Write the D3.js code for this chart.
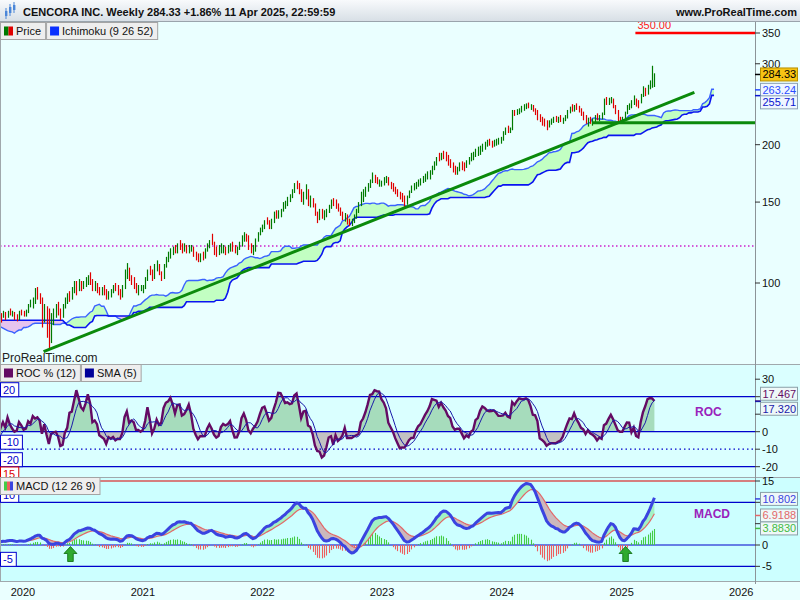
<!DOCTYPE html>
<html lang="en">
<head>
<meta charset="UTF-8">
<title>CENCORA INC. Weekly</title>
<script src="https://d3js.org/d3.v7.min.js"></script>
<style>
  body { margin: 0; background: #fff; }
  svg { display: block; font-family: "Liberation Sans", Arial, sans-serif; }
</style>
</head>
<body>
<svg width="800" height="600"></svg>
<script>
// Weekly bars, one per Friday from firstFriday on.
// The first 52 weeks (Nov 2018 - Oct 2019) fall left of the visible window,
// they only feed the warm-up of Ichimoku, ROC and MACD.
const firstFriday = "2018-11-02";

const highs = [
  93,94,92,90,90, 89,84,81,77, 78,79,80,80, 80,81,82,83, 83,81,80,81,80, 80,78,76,76,
  77,77,76,77,79, 83,85,86,86, 88,88,87,88, 88,83,83,83,83, 85,86,85,84, 84,85,86,86,
  // 2019-11, 2019-12
  87,86.5,87,88,87, 86.5,85.5,87,87.5,
  // 2020
  87,87.5,90,92,93, 97.5,98,95,93, 90,89,88,86, 88,90,91,88, 90,93,95,96,98, 101,101,102,101,
  101,103,104,105.5,102, 101,100,98,98, 99,97,96,97, 99,100,99,97,99, 107,110.5,108,104, 103,100,99,99,
  // 2021
  99,103,107,109,107, 110,112,110,106, 110,114,117,119, 120,121,122,124,122, 122,121,121,121, 120,117,116,116,
  117,119,122,124,128, 123,120,121,122, 121,120,121,122, 123,121,120,123,127, 129,128,127,122, 121,125,129,132,134,
  // 2022
  137,139,137,138, 143,144,144,145, 150,151,154,156, 160,165,167,165,160, 158,164,160,155, 153,149,143,145,
  145,144,145,148,152, 153,152,149,146, 143,142,141,138,138, 141,145,150,158, 160,162,165,168, 174,172,170,168,167,
  // 2023
  170,171,170,166, 165,162,160,158, 157,155,155,159,163, 165,166,168,169, 171,173,175,176, 180,184,188,192,192,
  194,193,190,186, 183,180,179,183, 184,183,185,188,192, 193,196,198,199, 201,203,205,206, 204,205,206,207,208,
  // 2024
  214,218,220,218, 238,238,239,240, 243,245,246,247,245, 244,240,238,233, 230,228,226,226,228, 230,231,230,232,
  229,232,238,242, 245,244,246,243,240, 236,232,229,230, 228,232,234,232, 235,252,254,253,254, 252,244,238,230,
  // 2025
  230,236,244,246,250, 256,252,250,258, 268,266,270,276, 297,286
];

const lows = [
  88,89,86,86,86, 82,79,74,72, 74,75,76,76, 76,77,78,79, 79,77,77,77,77, 76,73,72,72,
  73,73,72,73,75, 78,81,82,83, 84,84,83,84, 80,79,79,79,79, 81,82,81,80, 80,81,82,82,
  84,83,84,85,84.5, 83,82.5,83,85,
  84.5,84.5,86,88.5,88, 90,92,90,80, 82,76,71.5,74, 81,84,85,83, 84,88,90,91,92, 95,94,96,96,
  97,98,99,99,96, 96,95,94,94, 94,92,92,93, 95,96,94,92,93, 97,102,101,99, 97,95,94,96,
  95,97,101,104,101, 102,106,104,101, 102,108,111,113, 115,116,116,118,116, 117,116,116,117, 114,112,111,111,
  112,113,117,119,121, 115,114,115,116, 116,115,116,117, 117,116,115,118,120, 123,123,118,116, 115,117,123,127,129,
  131,134,131,131, 135,138,138,139, 143,145,147,150, 153,157,160,156,150, 148,152,147,146, 146,140,135,137,
  138,137,139,142,145, 147,145,143,140, 137,136,134,133,133, 135,138,142,147, 150,154,158,161, 165,165,164,162,162,
  163,165,163,160, 158,156,154,152, 150,146,148,153,157, 159,160,162,163, 165,166,168,168, 172,176,180,184,185,
  186,184,180,178, 174,172,172,175, 176,175,178,181,184, 185,188,189,190, 193,195,198,199, 197,198,199,200,201,
  204,210,212,212, 215,231,232,233, 235,237,239,240,238, 236,232,226,224, 220,219,215,218,221, 223,224,223,224,
  222,225,228,234, 236,236,238,235,231, 226,222,219,222, 220,223,226,225, 227,232,244,244,246, 240,233,224,222,
  223,227,233,238,240, 244,242,240,246, 254,255,257,264, 266,267
];

const closes = [
  91,92,87,88,89, 83,80,75,76, 77,78,79,77, 79,80,81,82, 80,78,79,78,79, 77,74,73,75,
  75,74,73,76,78, 82,84,85,85, 87,86,85,87, 82,81,82,80,82, 84,84,83,82, 83,84,85,84,
  85.5,84,86.5,85.5,85.5, 84,83.5,86.5,86,
  85,86.5,89,89.5,91.5, 93,92.5,91,83, 87,85,80,84, 86,89,87,84, 86,92,93,92,97, 100,99,100,98,
  100,101,102,100,97, 99,96,95,97, 95,93,95,96, 98,97,96,93,98, 104,106,102,101, 98,96,97,98,
  98,102,106,105,103, 108,109,105,103, 109,113,115,117, 118,117,121,119,118, 120,118,119,120, 115,113,112,115,
  114,118,121,123,122, 116,115,117,118, 118,116,120,121, 119,117,119,122,125, 127,125,119,117, 118,124,128,131,133,
  136,135,133,137, 141,139,143,144, 148,149,153,154, 158,163,162,158,152, 155,160,149,152, 147,141,137,140,
  139,140,144,147,151, 148,146,144,141, 138,140,135,134,135, 140,144,149,156, 157,160,163,167, 170,167,165,166,166,
  168,169,164,161, 160,157,156,154, 152,150,154,158,162, 163,165,166,167, 168,171,172,174, 178,182,186,185,190,
  188,186,182,181, 176,174,177,181, 180,179,181,184,188, 188,194,195,197, 199,201,203,201, 200,203,204,205,205,
  212,216,214,215, 235,234,236,238, 241,242,244,242,243, 237,234,228,226, 223,222,219,224,226, 228,226,229,225,
  227,230,236,240, 238,242,240,237,233, 229,226,227,225, 226,229,228,230, 232,249,248,250,251, 242,236,227,226,
  229,234.5,242,244,248, 254,244,243,255, 262,260,268,273, 279.14,284.33
];

const priceTicks = [350, 300, 200, 150, 100];
const rocTicks = [30, 20, 10, 0, -10, -20];
const macdTicks = [15, 10, 5, 0, -5];
const years = [2020, 2021, 2022, 2023, 2024, 2025, 2026];

// drawn objects on the price panel
const trendLine = [["2020-03-04", 70.9], ["2025-08-11", 260]];
const supportLevel = { from: "2024-10-04", price: 223.2 };
const targetLevel = { from: "2025-02-12", price: 350 };
const dottedLevel = 120.4;
const signalArrows = ["2020-05-25", "2025-01-13"];

// last values shown on the right scale
const priceLast = { close: 284.33, spanA: 263.24, spanB: 255.71 };
const rocLast = { roc: 17.467, sma: 17.320 };
const macdLast = { macd: 10.802, signal: 6.9188, hist: 3.8830 };

const svg = d3.select("svg");
const plotW = 755;
const parse = d3.utcParse("%Y-%m-%d");
const N = closes.length;
const t0 = parse(firstFriday);
const dates = d3.range(N + 26).map(i => d3.utcDay.offset(t0, 7 * i));

const x = d3.scaleUtc().domain([parse("2019-10-23"), parse("2026-02-12")]).range([0, plotW]);
const yP = d3.scaleLog().domain([100, 350]).range([283, 33]);
const yR = d3.scaleLinear().domain([0, 30]).range([431.7, 379.2]);
const yM = d3.scaleLinear().domain([0, 15]).range([545, 481]);

// ---- indicators
const ema = (arr, n) => { const k = 2 / (n + 1); let p; return arr.map((v, i) => p = i ? v * k + p * (1 - k) : v); };
const e12 = ema(closes, 12), e26 = ema(closes, 26);
const macd = closes.map((c, i) => e12[i] - e26[i]);
const signal = ema(macd, 9);
const hist = macd.map((m, i) => m - signal[i]);
const roc = closes.map((c, i) => i >= 12 ? (c / closes[i - 12] - 1) * 100 : null);
const rocSma = roc.map((r, i) => i >= 16 ? d3.mean(roc.slice(i - 4, i + 1)) : null);
const midRange = (i, n) => {
  const s = Math.max(0, i - n + 1);
  return (d3.max(highs.slice(s, i + 1)) + d3.min(lows.slice(s, i + 1))) / 2;
};
const cloud = d3.range(N).map(i => ({ d: dates[i + 26], a: (midRange(i, 9) + midRange(i, 26)) / 2, b: midRange(i, 52) }));

// ---- panels
const panels = { main: [22, 364], roc: [364, 477], macd: [477, 581] };
const defs = svg.append("defs");
Object.entries(panels).forEach(([k, [t, b]]) => {
  defs.append("clipPath").attr("id", "clip-" + k)
    .append("rect").attr("x", 0).attr("y", t).attr("width", plotW).attr("height", b - t);
});
const grad = defs.append("linearGradient").attr("id", "hdr").attr("x1", 0).attr("y1", 0).attr("x2", 0).attr("y2", 1);
grad.append("stop").attr("offset", 0).attr("stop-color", "#f8fafc");
grad.append("stop").attr("offset", 1).attr("stop-color", "#d6dee5");

svg.append("rect").attr("width", 800).attr("height", 600).attr("fill", "#fff");
svg.append("rect").attr("y", 22).attr("width", 800).attr("height", 342).attr("fill", "#eaffff");
svg.append("rect").attr("y", 364).attr("width", 800).attr("height", 113).attr("fill", "#daffff");
svg.append("rect").attr("y", 477).attr("width", 800).attr("height", 104).attr("fill", "#ccffff");
svg.append("rect").attr("y", 581).attr("width", 800).attr("height", 19).attr("fill", "#eaffff");

// ---- price panel
const gP = svg.append("g").attr("clip-path", "url(#clip-main)");

gP.append("line").attr("x1", 0).attr("x2", plotW)
  .attr("y1", yP(dottedLevel)).attr("y2", yP(dottedLevel))
  .attr("stroke", "#cc22cc").attr("stroke-width", 1.5).attr("stroke-dasharray", "1.5,2.5");

const cx = d => x(d.d);
gP.append("path").datum(cloud).attr("fill", "#c2ffc2")
  .attr("d", d3.area().x(cx).y0(d => yP(d.b)).y1(d => yP(Math.max(d.a, d.b))));
gP.append("path").datum(cloud).attr("fill", "#e6c4ee")
  .attr("d", d3.area().x(cx).y0(d => yP(d.b)).y1(d => yP(Math.min(d.a, d.b))));
gP.append("path").datum(cloud).attr("fill", "none").attr("stroke", "#3a62ff").attr("stroke-width", 1.4)
  .attr("d", d3.line().x(cx).y(d => yP(d.a)));
gP.append("path").datum(cloud).attr("fill", "none").attr("stroke", "#0a14f0").attr("stroke-width", 1.6)
  .attr("d", d3.line().x(cx).y(d => yP(d.b)));

gP.selectAll("line.bar").data(d3.range(N)).join("line").attr("class", "bar")
  .attr("x1", i => Math.round(x(dates[i])) + 0.5).attr("x2", i => Math.round(x(dates[i])) + 0.5)
  .attr("y1", i => yP(highs[i])).attr("y2", i => yP(lows[i]))
  .attr("stroke", i => closes[i] >= (i ? closes[i - 1] : closes[i]) ? "#007a00" : "#e00000")
  .attr("stroke-width", 1.2);

gP.append("line")
  .attr("x1", x(parse(trendLine[0][0]))).attr("y1", yP(trendLine[0][1]))
  .attr("x2", x(parse(trendLine[1][0]))).attr("y2", yP(trendLine[1][1]))
  .attr("stroke", "#0b8a0b").attr("stroke-width", 3);
gP.append("line")
  .attr("x1", x(parse(supportLevel.from))).attr("x2", plotW)
  .attr("y1", yP(supportLevel.price)).attr("y2", yP(supportLevel.price))
  .attr("stroke", "#0b8a0b").attr("stroke-width", 3);
gP.append("line")
  .attr("x1", x(parse(targetLevel.from))).attr("x2", plotW)
  .attr("y1", yP(targetLevel.price)).attr("y2", yP(targetLevel.price))
  .attr("stroke", "#ff0000").attr("stroke-width", 2.5);
gP.append("text").attr("x", x(parse(targetLevel.from)) + 2).attr("y", yP(targetLevel.price) - 4)
  .attr("font-size", 11).attr("fill", "#ff2020").text(targetLevel.price.toFixed(2));

svg.append("text").attr("x", 2).attr("y", 362).attr("font-size", 12).attr("fill", "#222").text("ProRealTime.com");

// ---- ROC panel
const gR = svg.append("g").attr("clip-path", "url(#clip-roc)");
const rocPts = d3.range(N).filter(i => roc[i] != null);
gR.append("path").datum(rocPts).attr("fill", "#a6dcbc")
  .attr("d", d3.area().x(i => x(dates[i])).y0(yR(0)).y1(i => yR(Math.max(roc[i], 0))));
gR.append("path").datum(rocPts).attr("fill", "#c2c2c2")
  .attr("d", d3.area().x(i => x(dates[i])).y0(yR(0)).y1(i => yR(Math.min(roc[i], 0))));
[20, 0, -20].forEach(v => gR.append("line").attr("x1", 0).attr("x2", plotW)
  .attr("y1", yR(v)).attr("y2", yR(v)).attr("stroke", "#0000cc").attr("stroke-width", 1.2));
gR.append("line").attr("x1", 0).attr("x2", plotW).attr("y1", yR(-10)).attr("y2", yR(-10))
  .attr("stroke", "#0000cc").attr("stroke-width", 1.2).attr("stroke-dasharray", "1.5,3");
gR.append("path").datum(rocPts).attr("fill", "none").attr("stroke", "#640a64").attr("stroke-width", 2.4)
  .attr("d", d3.line().x(i => x(dates[i])).y(i => yR(roc[i])));
gR.append("path").datum(d3.range(N).filter(i => rocSma[i] != null)).attr("fill", "none")
  .attr("stroke", "#1a1aaa").attr("stroke-width", 1)
  .attr("d", d3.line().x(i => x(dates[i])).y(i => yR(rocSma[i])));
svg.append("text").attr("x", 695).attr("y", 416).attr("font-size", 12).attr("font-weight", "bold")
  .attr("fill", "#9922bb").text("ROC");

// ---- MACD panel
const gM = svg.append("g").attr("clip-path", "url(#clip-macd)");
gM.append("line").attr("x1", 0).attr("x2", plotW).attr("y1", yM(15)).attr("y2", yM(15))
  .attr("stroke", "#dd0000").attr("stroke-width", 1.2);
[10, 0, -5].forEach(v => gM.append("line").attr("x1", 0).attr("x2", plotW)
  .attr("y1", yM(v)).attr("y2", yM(v)).attr("stroke", "#0000cc").attr("stroke-width", 1.2));
const idx = d3.range(N);
gM.selectAll("line.h").data(idx).join("line").attr("class", "h")
  .attr("x1", i => Math.round(x(dates[i])) + 0.5).attr("x2", i => Math.round(x(dates[i])) + 0.5)
  .attr("y1", yM(0)).attr("y2", i => yM(hist[i]))
  .attr("stroke", i => hist[i] >= 0 ? "#44cc44" : "#ee5e5e").attr("stroke-width", 1.1);
gM.append("path").datum(idx).attr("fill", "#a2f2c4")
  .attr("d", d3.area().x(i => x(dates[i])).y0(i => yM(signal[i])).y1(i => yM(Math.max(macd[i], signal[i]))));
gM.append("path").datum(idx).attr("fill", "#cbb8bc")
  .attr("d", d3.area().x(i => x(dates[i])).y0(i => yM(signal[i])).y1(i => yM(Math.min(macd[i], signal[i]))));
gM.append("path").datum(idx).attr("fill", "none").attr("stroke", "#e26868").attr("stroke-width", 1.2)
  .attr("d", d3.line().x(i => x(dates[i])).y(i => yM(signal[i])));
gM.append("path").datum(idx).attr("fill", "none").attr("stroke", "#3a44e0").attr("stroke-width", 3)
  .attr("stroke-linejoin", "round").attr("d", d3.line().x(i => x(dates[i])).y(i => yM(macd[i])));
signalArrows.forEach(d => {
  const ax = x(parse(d)), top = yM(0) + 1.5;
  gM.append("path").attr("fill", "#2faa2f").attr("stroke", "#0a6a0a").attr("stroke-width", 0.8)
    .attr("d", `M${ax},${top}L${ax + 6.5},${top + 7}L${ax + 2.8},${top + 7}L${ax + 2.8},${top + 15}` +
      `L${ax - 2.8},${top + 15}L${ax - 2.8},${top + 7}L${ax - 6.5},${top + 7}Z`);
});
svg.append("text").attr("x", 694).attr("y", 518).attr("font-size", 12).attr("font-weight", "bold")
  .attr("fill", "#9922bb").text("MACD");

// ---- frame lines
[364, 477, 581].forEach(y => svg.append("line").attr("x1", 0).attr("x2", 800).attr("y1", y + 0.5).attr("y2", y + 0.5)
  .attr("stroke", "#a0a8ac"));
svg.append("line").attr("x1", plotW + 0.5).attr("x2", plotW + 0.5).attr("y1", 22).attr("y2", 584).attr("stroke", "#8c9498");
svg.append("line").attr("x1", 0.5).attr("x2", 0.5).attr("y1", 22).attr("y2", 581).attr("stroke", "#a0a8ac");

// ---- value boxes on the right scale (centres worked out first, so the scale can leave room)
const boxes = [
  { txt: priceLast.close.toFixed(2), vy: yP(priceLast.close), cy: yP(priceLast.close), color: "#000", fill: "#f6c414", stroke: "#b89000" },
  { txt: priceLast.spanA.toFixed(2), vy: yP(priceLast.spanA), cy: yP(priceLast.spanA), color: "#2a4cff", fill: "#eef6ff", stroke: "#8aa0b4" },
  { txt: priceLast.spanB.toFixed(2), vy: yP(priceLast.spanB), cy: Math.max(yP(priceLast.spanB), yP(priceLast.spanA) + 12.5), color: "#0a14d0", fill: "#eef6ff", stroke: "#8aa0b4" }
];
const rMid = (yR(rocLast.roc) + yR(rocLast.sma)) / 2;
boxes.push(
  { txt: rocLast.roc.toFixed(3), vy: yR(rocLast.roc), cy: rMid - 7.5, color: "#640a64", fill: "#eef8f8", stroke: "#8aa0a8" },
  { txt: rocLast.sma.toFixed(3), vy: yR(rocLast.sma), cy: rMid + 7.5, color: "#1a1aaa", fill: "#eef8f8", stroke: "#8aa0a8" },
  { txt: macdLast.macd.toFixed(3), vy: yM(macdLast.macd), cy: yM(macdLast.macd), color: "#3a44e0", fill: "#eef8f8", stroke: "#8aa0a8" },
  { txt: macdLast.signal.toFixed(4), vy: yM(macdLast.signal), cy: yM(macdLast.signal), color: "#e26868", fill: "#eef8f8", stroke: "#8aa0a8" },
  { txt: macdLast.hist.toFixed(4), vy: yM(macdLast.hist), cy: yM(macdLast.hist), color: "#44bb44", fill: "#eef8f8", stroke: "#8aa0a8" }
);

function axisLabels(ticks, y) {
  ticks.forEach(v => {
    svg.append("line").attr("x1", plotW).attr("x2", plotW + 5).attr("y1", y(v)).attr("y2", y(v)).attr("stroke", "#333");
    // a label hidden behind a value box is left out
    if (boxes.some(b => Math.abs(b.cy - y(v)) < 10)) return;
    svg.append("text").attr("x", 762).attr("y", y(v) + 4).attr("font-size", 11).attr("fill", "#111").text(v);
  });
}
axisLabels(priceTicks, yP);
axisLabels(rocTicks, yR);
axisLabels(macdTicks, yM);

boxes.forEach(b => {
  svg.append("line").attr("x1", plotW).attr("x2", plotW + 6).attr("y1", b.vy).attr("y2", b.vy)
    .attr("stroke", b.color).attr("stroke-width", 1.5);
  svg.append("rect").attr("x", 760.5).attr("y", b.cy - 6.5).attr("width", 37).attr("height", 13)
    .attr("fill", b.fill).attr("stroke", b.stroke);
  svg.append("text").attr("x", 762.5).attr("y", b.cy + 4).attr("font-size", 11).attr("fill", b.color).text(b.txt);
});

// ---- time axis
years.forEach(yr => svg.append("text").attr("x", x(parse(yr + "-01-01"))).attr("y", 596)
  .attr("font-size", 11).attr("text-anchor", "middle").attr("fill", "#111").text(yr));

// ---- left level tags
function levelTag(txt, yv, color) {
  const g = svg.append("g");
  const t = g.append("text").attr("x", 3).attr("y", yv - 3).attr("font-size", 11).attr("fill", color).text(txt);
  const w = t.node().getComputedTextLength() + 6;
  g.insert("rect", "text").attr("x", 0.5).attr("y", yv - 14).attr("width", w).attr("height", 14)
    .attr("fill", "#fff").attr("stroke", color);
}
levelTag("20", yR(20), "#0000cc");
levelTag("-10", yR(-10), "#0000cc");
levelTag("-20", yR(-20), "#0000cc");
levelTag("10", yM(10), "#0000cc");
levelTag("15", yM(15), "#dd0000");
levelTag("-5", yM(-5), "#0000cc");

// ---- legends
function legend(items, y0) {
  let lx = 0;
  items.forEach(it => {
    const g = svg.append("g");
    const t = g.append("text").attr("x", lx + 16).attr("y", y0 + 13).attr("font-size", 11).attr("fill", "#111").text(it.label);
    const w = t.node().getComputedTextLength() + 20;
    g.insert("rect", "text").attr("x", lx + 0.5).attr("y", y0 + 0.5).attr("width", w).attr("height", 17)
      .attr("fill", "#eeeeee").attr("stroke", "#a4a4a4");
    const sw = it.colors.length;
    it.colors.forEach((c, k) => g.append("rect").attr("x", lx + 4 + k * 9 / sw).attr("y", y0 + 4.5)
      .attr("width", 9 / sw).attr("height", 9).attr("fill", c));
    lx += w + 1;
  });
}
legend([{ label: "Price", colors: ["#007a00", "#e00000"] }, { label: "Ichimoku (9 26 52)", colors: ["#0a30ff"] }], 22);
legend([{ label: "ROC % (12)", colors: ["#640a64"] }, { label: "SMA (5)", colors: ["#000099"] }], 364);
legend([{ label: "MACD (12 26 9)", colors: ["#44cc44", "#ee5e5e", "#3a44e0"] }], 477);

// ---- header
svg.append("rect").attr("width", 800).attr("height", 22).attr("fill", "url(#hdr)");
svg.append("line").attr("x1", 0).attr("x2", 800).attr("y1", 21.5).attr("y2", 21.5).attr("stroke", "#9aa4ac");
[[5, 9, 17], [9, 5, 14], [13, 3, 11]].forEach(([cx0, t, b]) => {
  svg.append("line").attr("x1", cx0 + 1).attr("x2", cx0 + 1).attr("y1", t - 1).attr("y2", b + 2).attr("stroke", "#4a86d8");
  svg.append("rect").attr("x", cx0).attr("y", t + 2).attr("width", 2.4).attr("height", b - t - 3).attr("fill", "#4a86d8");
});
svg.append("text").attr("x", 23).attr("y", 15.5).attr("font-size", 11).attr("font-weight", "bold").attr("fill", "#111")
  .text("CENCORA INC. Weekly 284.33 +1.86% 11 Apr 2025, 22:59:59");
svg.append("text").attr("x", 797).attr("y", 15.5).attr("font-size", 11).attr("font-weight", "bold").attr("fill", "#111")
  .attr("text-anchor", "end").text("www.ProRealTime.com");
</script>
</body>
</html>
